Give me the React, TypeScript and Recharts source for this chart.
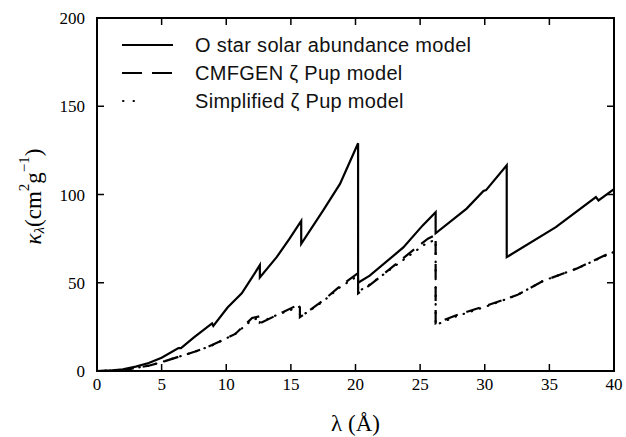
import { LineChart, Line, XAxis, YAxis } from "recharts";

// O star solar abundance model
const solarLambda = [0, 1, 2, 3, 4, 5, 6.3, 6.5, 7.5, 8.9, 9.0, 10.1, 11.2, 12.0, 12.6, 12.6, 13.9, 14.9, 15.8, 15.8, 17.5, 18.8, 20.2, 20.2, 21.1, 23.7, 25.2, 26.2, 26.2, 28.6, 29.9, 30.1, 31.7, 31.7, 35.5, 38.6, 38.8, 40];
const solarKappa = [0, 0.2, 1, 2.5, 4.5, 7.5, 13, 13, 19, 27, 25.5, 36, 44, 53, 60, 53, 64.5, 75, 85, 72, 91, 106, 129, 50, 54, 70, 82.5, 90, 78, 92, 102, 102.5, 116.5, 64.5, 81.5, 98.5, 96.6, 103];

// CMFGEN zeta Pup model
const cmfgenLambda = [0, 2, 4, 5, 6.3, 7.6, 8.9, 10.7, 12.0, 12.6, 12.6, 14, 15.7, 15.7, 16.2, 17.5, 18.8, 20.2, 20.2, 21.1, 23.7, 25.6, 26.2, 26.2, 27.8, 30.1, 32.5, 34.5, 37.1, 40];
const cmfgenKappa = [0, 0.5, 3, 5, 8, 11, 14.7, 21, 30, 31, 27, 32, 38, 30.5, 33, 40, 48, 55.5, 44, 48.6, 64, 75, 77, 27, 31.6, 37, 43, 51, 58, 68];

// Simplified zeta Pup model
const simpleLambda = [0, 2, 4, 5, 6.3, 7.6, 8.9, 10.7, 12.0, 12.6, 12.6, 14, 15.7, 15.7, 16.2, 17.5, 18.8, 20.2, 20.2, 21.1, 23.7, 25.6, 26.2, 26.2, 27.8, 30.1, 32.5, 34.5, 37.1, 40];
const simpleKappa = [0, 0.5, 3, 5, 8, 11, 14.5, 21, 29, 30, 27.5, 32, 36.5, 31, 33, 39.5, 47.5, 54, 45, 49, 63, 73, 74, 26, 31, 36.5, 43, 51, 58, 67.5];

const xTicks = [0, 5, 10, 15, 20, 25, 30, 35, 40];
const yTicks = [0, 50, 100, 150, 200];
const xDomain: [number, number] = [0, 40];
const yDomain: [number, number] = [0, 200];

const seriesNames = [
  "O star solar abundance model",
  "CMFGEN \u03b6 Pup model",
  "Simplified \u03b6 Pup model",
];

const zip = (xs: number[], ys: number[]) => xs.map((x, i) => ({ x, y: ys[i] }));

const series = [
  { name: seriesNames[0], data: zip(solarLambda, solarKappa), dash: undefined, cap: "butt", key: "solid" },
  { name: seriesNames[1], data: zip(cmfgenLambda, cmfgenKappa), dash: "14 9", cap: "butt", key: "dash" },
  { name: seriesNames[2], data: zip(simpleLambda, simpleKappa), dash: "0.5 8", cap: "round", key: "dot" },
];

const serif = "'Liberation Serif', 'Times New Roman', serif";
const sans = "'Liberation Sans', Arial, Helvetica, sans-serif";

const W = 626;
const H = 437;
const margin = { top: 18, right: 12, bottom: 6, left: 17 };
const yAxisWidth = 80;
const xAxisHeight = 60;
const TICK = 7;

function LegendSample({ kind }: { kind: string }) {
  if (kind === "dot") {
    return <line x1={5} x2={25} y1={14} y2={14} stroke="#000" strokeWidth={2} strokeDasharray="0.5 10" strokeLinecap="round" />;
  }
  return (
    <line
      x1={4}
      x2={55}
      y1={14}
      y2={14}
      stroke="#000"
      strokeWidth={2.2}
      strokeDasharray={kind === "dash" ? "20 10" : undefined}
    />
  );
}

function LegendBox() {
  return (
    <div style={{ position: "absolute", left: 118, top: 31, fontFamily: sans, fontSize: 20, color: "#111", pointerEvents: "none" }}>
      {series.map((s) => (
        <div key={s.name} style={{ display: "flex", alignItems: "center", height: 28 }}>
          <svg width={56} height={28}>
            <LegendSample kind={s.key} />
          </svg>
          <span style={{ marginLeft: 21, whiteSpace: "nowrap", letterSpacing: 0.3 }}>{s.name}</span>
        </div>
      ))}
    </div>
  );
}

// box frame with inward ticks on all four sides
function Frame() {
  const left = margin.left + yAxisWidth;
  const top = margin.top;
  const right = W - margin.right;
  const bottom = H - margin.bottom - xAxisHeight;
  const px = (t: number) => left + ((t - xDomain[0]) / (xDomain[1] - xDomain[0])) * (right - left);
  const py = (t: number) => bottom - ((t - yDomain[0]) / (yDomain[1] - yDomain[0])) * (bottom - top);
  return (
    <svg width={W} height={H} style={{ position: "absolute", left: 0, top: 0, pointerEvents: "none" }}>
      <rect x={left} y={top} width={right - left} height={bottom - top} fill="none" stroke="#000" strokeWidth={2} />
      {xTicks.slice(1, -1).map((t) => (
        <g key={`x${t}`}>
          <line x1={px(t)} x2={px(t)} y1={bottom} y2={bottom - TICK} stroke="#000" strokeWidth={1.5} />
          <line x1={px(t)} x2={px(t)} y1={top} y2={top + TICK} stroke="#000" strokeWidth={1.5} />
        </g>
      ))}
      {yTicks.slice(1, -1).map((t) => (
        <g key={`y${t}`}>
          <line x1={left} x2={left + TICK} y1={py(t)} y2={py(t)} stroke="#000" strokeWidth={1.5} />
          <line x1={right} x2={right - TICK} y1={py(t)} y2={py(t)} stroke="#000" strokeWidth={1.5} />
        </g>
      ))}
    </svg>
  );
}

function YLabel(props: any) {
  const vb = props.viewBox || { x: 17, y: 18, width: 80, height: 353 };
  const cx = vb.x + 16;
  const cy = vb.y + vb.height / 2 + 2;
  return (
    <text
      x={cx}
      y={cy}
      transform={`rotate(-90, ${cx}, ${cy})`}
      textAnchor="middle"
      dominantBaseline="central"
      fontFamily={serif}
      fontSize={23}
      fill="#000"
    >
      <tspan fontStyle="italic">κ</tspan>
      <tspan fontSize={15} dy={6} fontStyle="italic">λ</tspan>
      <tspan dy={-6}>(cm</tspan>
      <tspan fontSize={15} dy={-9}>2</tspan>
      <tspan dy={9}>g</tspan>
      <tspan fontSize={15} dy={-9}>−1</tspan>
      <tspan dy={9}>)</tspan>
    </text>
  );
}

function XLabel(props: any) {
  const vb = props.viewBox || { x: 97, y: 371, width: 517, height: 60 };
  return (
    <text
      x={vb.x + vb.width / 2}
      y={vb.y + 60}
      textAnchor="middle"
      fontFamily={serif}
      fontSize={23}
      fill="#000"
    >
      λ (Å)
    </text>
  );
}

export default function App() {
  const axisLine = { stroke: "#000", strokeWidth: 2 };
  const tickStyle = { fontFamily: serif, fontSize: 17, fill: "#000" };
  return (
    <div style={{ position: "absolute", left: 0, top: 0, width: W, height: H, background: "#fff" }}>
      <LineChart width={W} height={H} data={series[0].data} margin={margin}>
        <XAxis
          dataKey="x"
          type="number"
          domain={xDomain}
          ticks={xTicks}
          height={xAxisHeight}
          tickSize={0}
          tickMargin={7}
          tick={tickStyle}
          tickLine={false}
          axisLine={axisLine}
          label={<XLabel />}
        />
        <YAxis
          type="number"
          domain={yDomain}
          ticks={yTicks}
          width={yAxisWidth}
          tickSize={0}
          tickMargin={12}
          tick={tickStyle}
          tickLine={false}
          axisLine={axisLine}
          label={<YLabel />}
        />
        {series.map((s, i) => (
          <Line
            key={s.name}
            name={s.name}
            data={i === 0 ? undefined : s.data}
            dataKey="y"
            type="linear"
            stroke="#000"
            strokeWidth={2.2}
            strokeDasharray={s.dash}
            strokeLinecap={s.cap as any}
            dot={false}
            activeDot={false}
            isAnimationActive={false}
          />
        ))}
      </LineChart>
      <Frame />
      <LegendBox />
    </div>
  );
}
